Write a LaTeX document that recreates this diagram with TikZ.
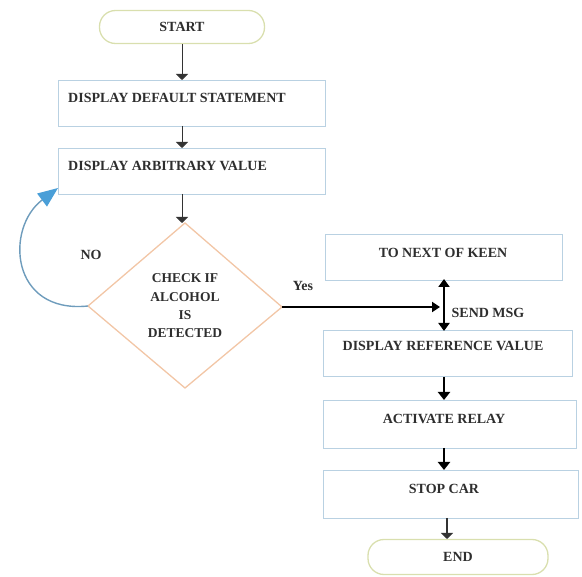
\documentclass[tikz,border=0pt]{standalone}
\usepackage{fontspec}
\setmainfont{Liberation Serif}
\usetikzlibrary{arrows.meta,shapes.geometric}
\definecolor{boxblue}{HTML}{B9D1E2}
\definecolor{peach}{HTML}{F2C6A6}
\definecolor{capsule}{HTML}{D9DFAE}
\definecolor{txt}{HTML}{2E2E2E}
\definecolor{loopline}{HTML}{6E9CBC}
\definecolor{loophead}{HTML}{4A9FD8}
\tikzset{
  x=1pt, y=-1pt,
  procbox/.style={draw=boxblue, line width=1.3pt, rectangle, inner sep=0pt, anchor=north west},
  capbox/.style={draw=capsule, line width=1.3pt, rounded corners=16pt, inner sep=0pt},
  lbl/.style={font=\bfseries\fontsize{14}{15}\selectfont, text=txt, inner sep=0pt},
  thin arrow/.style={draw=black!80, line width=0.9pt, -{Triangle[width=12pt,length=6pt]}},
  thick arrow/.style={draw=black, line width=2pt, -{Triangle[width=12pt,length=8pt]}},
}
\begin{document}
\begin{tikzpicture}
\useasboundingbox (0,0) rectangle (582,577);
% start
\node[capbox, minimum width=165pt, minimum height=33pt] (start) at (182,27) {};
\node[lbl] (startT) at (182,27) {START};
% box 1
\node[procbox, minimum width=267pt, minimum height=46pt] (b1) at (58,80) {};
\node[lbl, anchor=west] (b1T) at (68,98) {DISPLAY DEFAULT STATEMENT};
% box 2
\node[procbox, minimum width=267pt, minimum height=46pt] (b2) at (58,148) {};
\node[lbl, anchor=west] (b2T) at (68,166) {DISPLAY ARBITRARY VALUE};
% diamond
\coordinate (dT) at (185,223);
\coordinate (dL) at (88,306);
\coordinate (dR) at (282,307);
\coordinate (dB) at (185,388);
\draw[draw=peach, line width=1.3pt] (dT) -- (dR) -- (dB) -- (dL) -- cycle;
\node[lbl, align=center, font=\bfseries\fontsize{13.5}{18.3}\selectfont] (dT1) at (185,306) {CHECK IF\\ALCOHOL\\IS\\DETECTED};
% right column
\node[procbox, minimum width=237pt, minimum height=46pt] (k) at (325,234) {};
\node[lbl] (kT) at (443,253) {TO NEXT OF KEEN};
\node[procbox, minimum width=249pt, minimum height=46pt] (r) at (323,330) {};
\node[lbl] (rT) at (443,346) {DISPLAY REFERENCE VALUE};
\node[procbox, minimum width=253pt, minimum height=48pt] (a) at (323,400) {};
\node[lbl] (aT) at (444,419) {ACTIVATE RELAY};
\node[procbox, minimum width=255pt, minimum height=48pt] (s) at (323,470) {};
\node[lbl] (sT) at (444,489) {STOP CAR};
\node[capbox, minimum width=180pt, minimum height=35pt] (end) at (458,557) {};
\node[lbl] (endT) at (458,557) {END};
% labels
\node[lbl] (no) at (91,255) {NO};
\node[lbl] (yes) at (303,286) {Yes};
\node[lbl] (msg) at (488,313) {SEND MSG};
% connectors
\draw[thin arrow] (start.south) -- (b1.north -| start.south);
\draw[thin arrow] (182,126) -- (182,148);
\draw[thin arrow] (182,194) -- (dT -| 182,0);
\draw[loopline, line width=1.4pt, -{Triangle[width=16pt,length=20pt,fill=loophead,color=loophead]}]
  (dL) .. controls (10,314) and (5,228) .. (58,188);
\coordinate (j) at (440,307);
\draw[draw=black, line width=2pt, -{Triangle[width=10pt,length=8pt]}] (dR) -- (j);
\draw[draw=black, line width=2pt, {Triangle[width=11pt,length=8pt]}-{Triangle[width=11pt,length=8pt]}] (444,279) -- (444,331);
\draw[thick arrow] (444,377) -- (444,400);
\draw[thick arrow] (444,448) -- (444,470);
\draw[thin arrow, line width=1.6pt] (447,518) -- (447,539);
\end{tikzpicture}
\end{document}
